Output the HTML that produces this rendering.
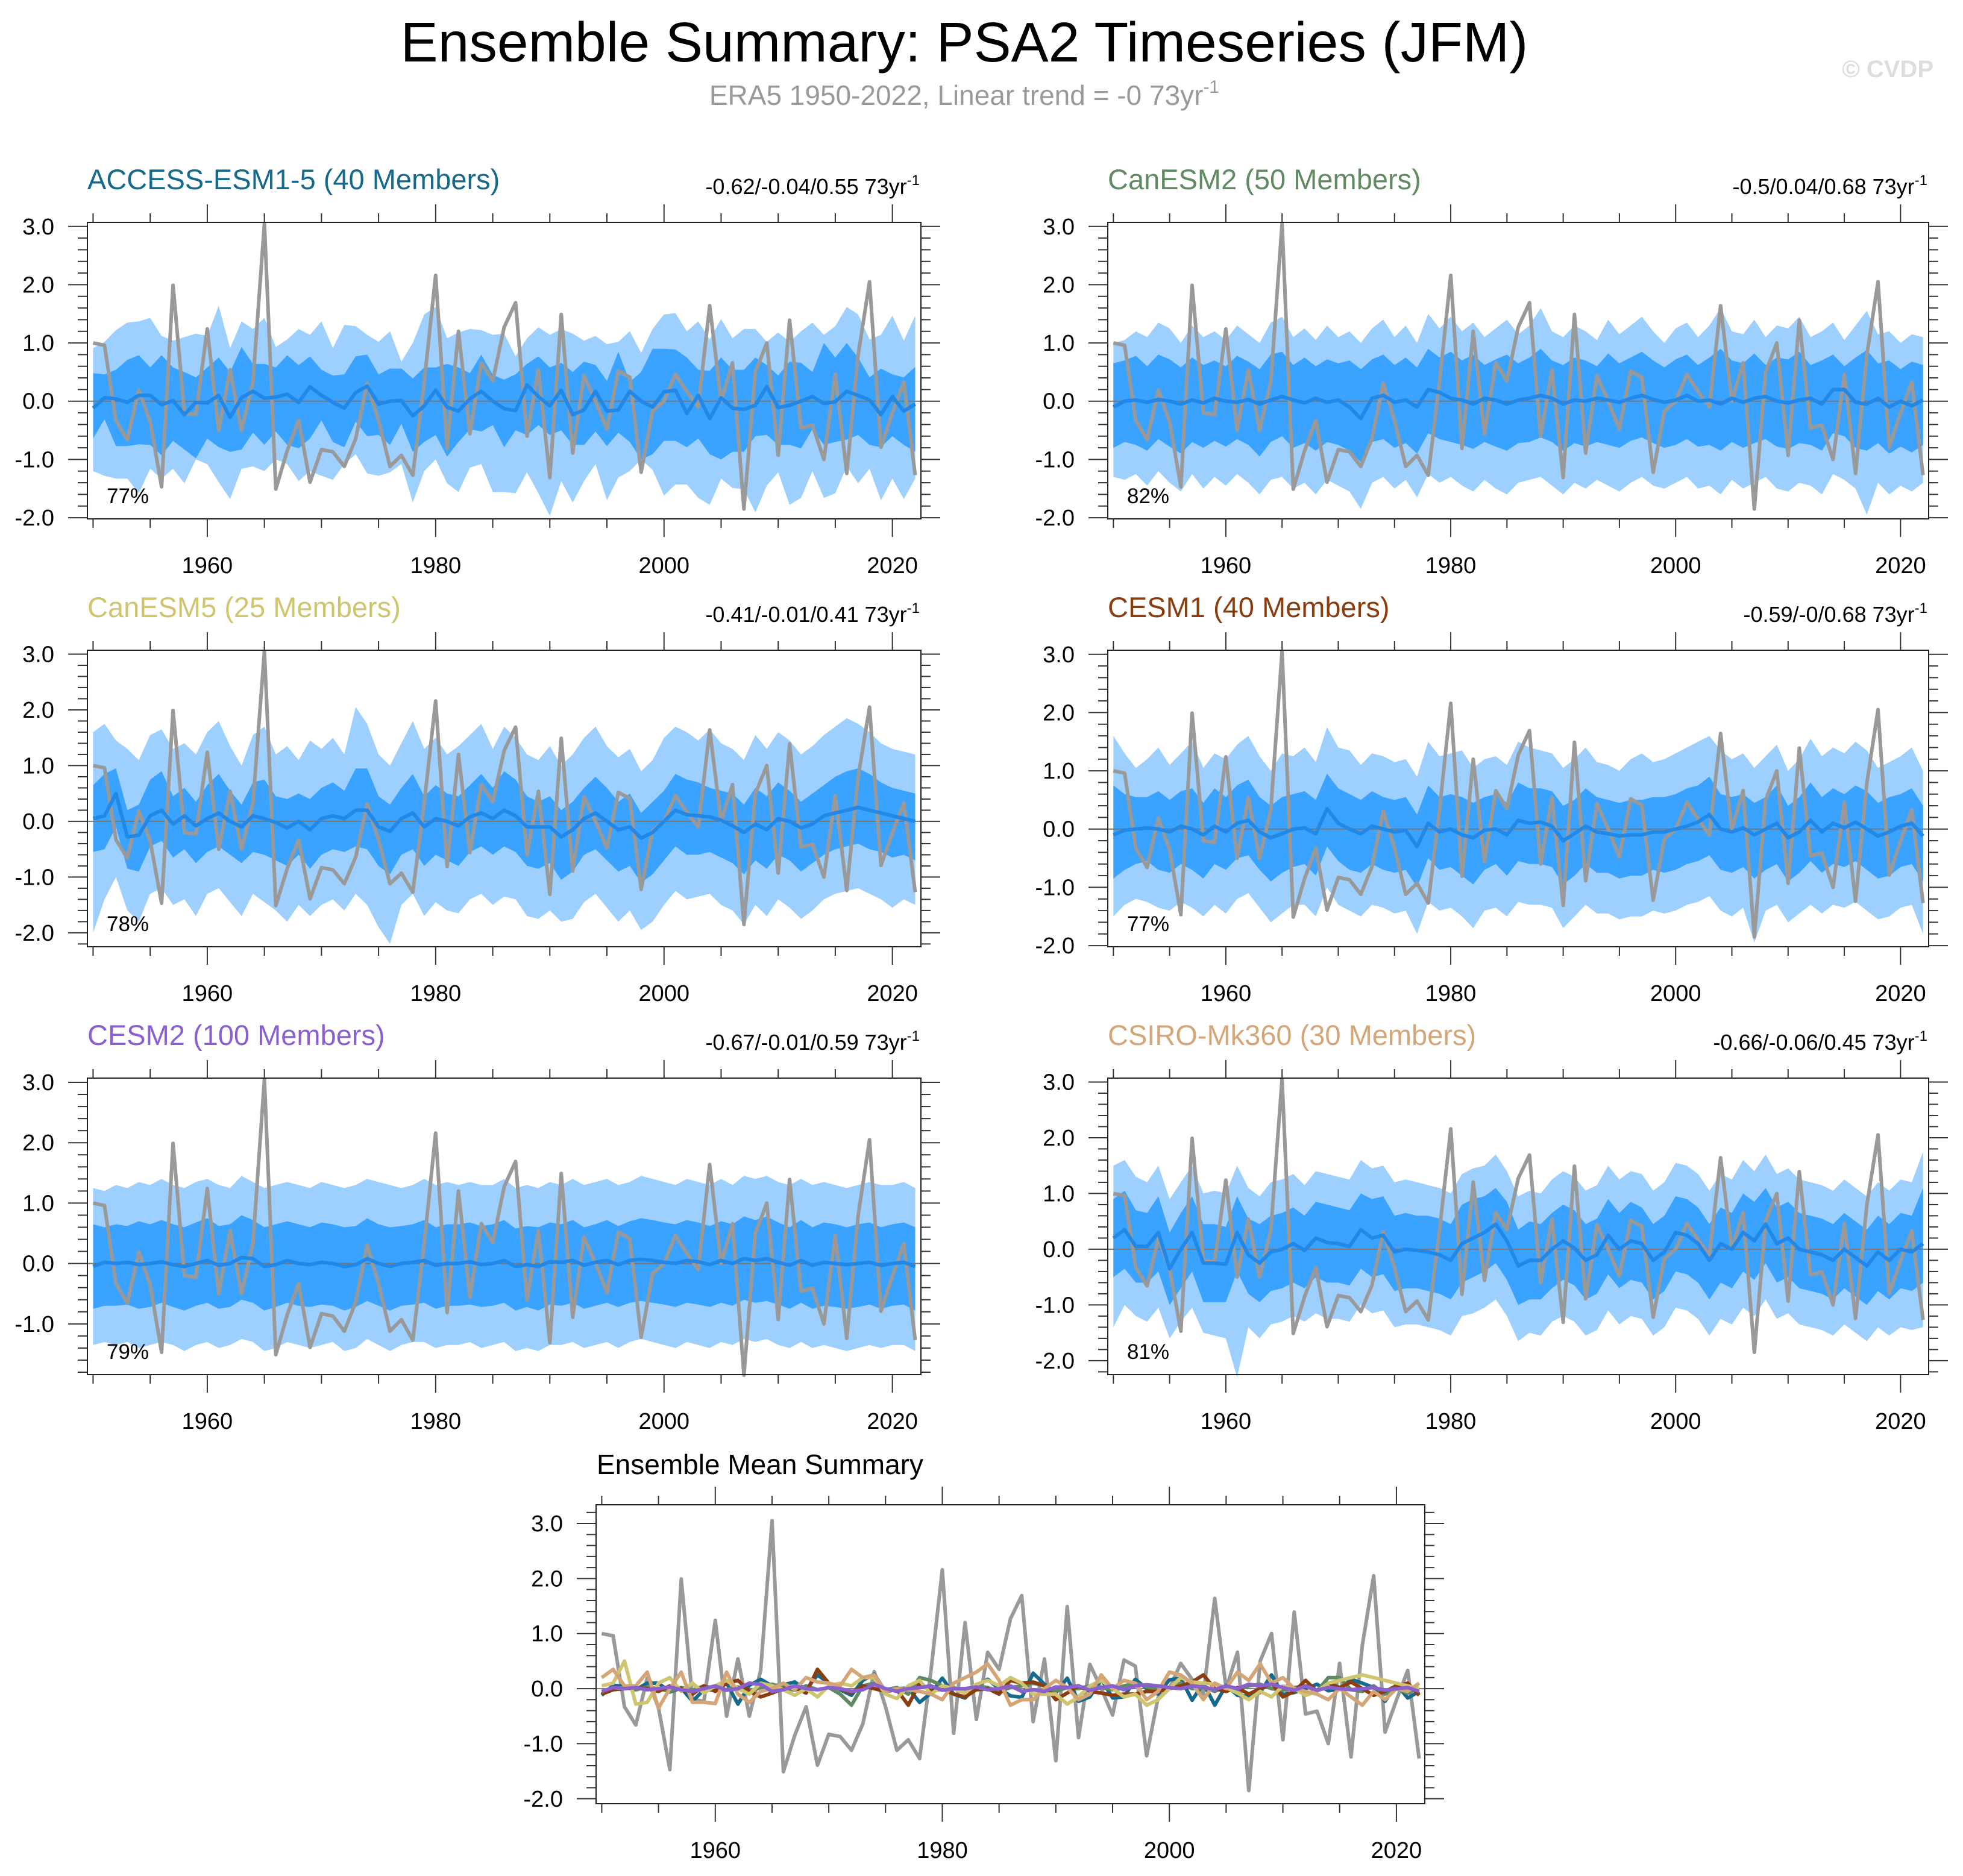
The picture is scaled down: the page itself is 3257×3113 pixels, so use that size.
<!DOCTYPE html>
<html><head><meta charset="utf-8"><style>
html,body{margin:0;padding:0;background:#fff;}
svg{display:block;font-family:"Liberation Sans",sans-serif;}
</style></head><body>
<svg id="chart" width="3257" height="3113" viewBox="0 0 3257 3113" xmlns="http://www.w3.org/2000/svg">
<text x="1600" y="102" font-size="93" text-anchor="middle" fill="#000">Ensemble Summary: PSA2 Timeseries (JFM)</text>
<text x="1600" y="174" font-size="46" text-anchor="middle" fill="#999">ERA5 1950-2022, Linear trend = -0 73yr<tspan font-size="30" dy="-20">-1</tspan></text>
<text x="3208" y="128" font-size="40" font-weight="bold" text-anchor="end" fill="#ddd">© CVDP</text>
<g id="panels"></g>
</svg>
<script>
const years = [];
for (let y = 1950; y <= 2022; y++) years.push(y);
const era5 = [1.0,0.96,-0.33,-0.66,0.19,-0.35,-1.47,1.99,-0.2,-0.23,
1.24,-0.5,0.54,-0.5,0.33,3.05,-1.51,-0.85,-0.33,-1.39,
-0.83,-0.87,-1.12,-0.64,0.31,-0.33,-1.12,-0.93,-1.27,0.33,
2.16,-0.81,1.2,-0.56,0.66,0.35,1.27,1.69,-0.6,0.54,
-1.31,1.49,-0.89,0.44,0.0,-0.48,0.52,0.41,-1.22,-0.17,
0.0,0.46,0.17,-0.1,1.64,0.0,0.66,-1.85,0.5,1.0,
-0.93,1.39,-0.46,-0.41,-1.0,0.46,-1.24,0.79,2.05,-0.79,
-0.21,0.33,-1.27];

const p1Mean = [-0.12,0.06,0.04,-0.02,0.1,0.1,-0.06,0.01,-0.23,-0.02,
-0.03,0.1,-0.28,0.06,0.17,0.05,0.07,0.12,-0.02,0.25,
0.1,-0.02,-0.12,0.15,0.26,-0.05,0,0.01,-0.25,-0.08,
0.19,-0.1,-0.17,0.04,0.17,0,-0.13,-0.16,0.28,0.08,
-0.08,0.19,-0.23,-0.15,0.17,-0.17,-0.15,0.17,0,-0.1,
0.16,0.19,-0.21,0.1,-0.3,0.06,-0.12,-0.14,-0.07,0.25,
-0.11,-0.07,0,0.08,-0.04,-0.01,0.17,0.1,0.02,-0.23,
0.08,-0.17,-0.05];
const p1InHi = [0.48,0.46,0.54,0.71,0.79,0.58,0.79,0.58,0.5,0.41,
0.58,0.75,0.5,0.93,0.64,0.64,0.58,0.79,0.62,0.77,
0.54,0.44,0.46,0.77,0.8,0.46,0.56,0.56,0.39,0.58,
0.58,0.64,0.58,0.48,0.8,0.45,0.37,0.46,0.64,0.77,
0.58,0.66,0.5,0.68,0.62,0.35,0.85,0.33,0.5,0.9,
0.9,0.89,0.75,0.54,0.52,0.75,0.54,0.54,0.75,0.62,
0.44,0.68,0.66,0.5,1.0,0.75,1.0,0.75,0.41,0.56,
0.46,0.41,0.59];
const p1InLo = [-0.64,-0.31,-0.77,-0.77,-0.74,-0.75,-0.93,-0.68,-0.83,-0.98,
-0.64,-0.79,-0.87,-0.83,-0.54,-0.75,-0.52,-0.75,-0.81,-0.64,
-0.33,-0.7,-0.79,-0.35,-0.6,-0.58,-0.75,-0.39,-0.87,-0.7,
-0.58,-0.95,-0.7,-0.48,-0.52,-0.41,-0.79,-0.5,-0.58,-0.41,
-0.58,-0.5,-0.75,-0.75,-0.52,-0.77,-0.54,-0.7,-1.0,-0.91,
-0.68,-0.68,-0.79,-0.64,-0.91,-1.0,-0.87,-0.87,-0.6,-0.58,
-0.75,-0.75,-0.81,-0.48,-0.75,-0.7,-0.66,-0.58,-0.75,-0.79,
-0.6,-0.75,-0.87];
const p1OutHi = [0.91,1.02,1.22,1.35,1.37,1.43,1.12,1.04,1.1,1.16,
1.12,1.64,0.91,1.37,1.24,1.43,0.93,1.06,1.24,1.14,
1.37,0.91,1.31,1.29,1.14,1.02,1.2,0.68,1.0,1.49,
1.62,1.08,1.18,1.24,1.22,1.14,1.16,0.77,1.08,1.27,
1.14,1.24,1.16,1.04,1.12,0.98,1.02,1.2,0.83,1.24,
1.49,1.51,1.2,1.37,1.06,1.41,1.08,1.24,1.24,1.02,
1.18,1.02,1.2,1.35,1.14,1.29,1.62,1.49,1.06,1.14,
1.47,1.04,1.47];
const p1OutLo = [-1.2,-1.28,-1.33,-1.33,-1.58,-1.16,-1.33,-1.16,-1.41,-1.0,
-1.08,-1.39,-1.68,-1.16,-1.12,-1.2,-1.0,-1.08,-1.37,-1.2,
-1.28,-1.35,-1.08,-0.91,-1.24,-1.28,-1.22,-1.08,-1.74,-1.2,
-1.0,-1.41,-1.56,-1.14,-1.08,-1.56,-1.56,-1.58,-1.22,-1.58,
-1.97,-1.37,-1.74,-1.37,-1.08,-1.7,-1.31,-1.2,-1.0,-1.18,
-1.62,-1.43,-1.43,-1.66,-1.78,-1.33,-1.49,-1.51,-1.91,-1.45,
-1.22,-1.78,-1.66,-1.2,-1.66,-1.58,-1.12,-1.41,-1.16,-1.7,
-1.33,-1.68,-1.33];

const p2Mean = [-0.1,0,0.02,-0.02,0.03,0,-0.05,0.02,-0.03,0.05,
0,-0.02,0.03,-0.05,0.02,0.08,0.02,-0.03,0.05,-0.02,
0.02,-0.1,-0.3,0.05,0.1,-0.02,0.02,-0.1,0.2,0.15,
0.05,0.02,-0.05,0.05,0.02,-0.05,0.02,0.05,0.1,0.05,
-0.05,0.02,0,0.05,0.02,-0.02,0.05,0.1,0.03,-0.02,
0.02,0.1,0,0.02,-0.05,0.05,-0.02,0.05,0.08,0,
-0.03,0.02,0.05,-0.05,0.2,0.2,-0.02,-0.05,0.05,-0.1,
0,-0.08,0.02];
const p2OutHi = [1.0,1.05,1.2,1.1,1.35,1.25,1.0,1.3,1.1,1.2,
1.05,1.3,1.15,1.0,1.35,1.45,1.1,1.25,1.05,1.3,
1.1,1.2,1.0,1.25,1.4,1.1,1.3,1.0,1.5,1.25,
1.45,1.2,1.35,1.1,1.25,1.4,1.15,1.3,1.6,1.2,
1.1,1.3,1.2,1.05,1.4,1.15,1.3,1.45,1.2,1.0,
1.25,1.35,1.1,1.3,1.6,1.2,1.15,1.4,1.1,1.3,
1.25,1.45,1.1,1.2,1.35,1.05,1.3,1.55,1.15,1.2,
1.0,1.15,1.1];
const p2InHi = [0.65,0.7,0.78,0.6,0.8,0.72,0.58,0.75,0.62,0.7,
0.6,0.78,0.68,0.55,0.8,0.85,0.62,0.75,0.6,0.72,
0.65,0.7,0.55,0.72,0.8,0.62,0.75,0.58,0.9,0.75,
0.85,0.7,0.8,0.62,0.72,0.8,0.65,0.75,0.9,0.7,
0.62,0.75,0.7,0.6,0.82,0.65,0.75,0.85,0.7,0.58,
0.72,0.8,0.62,0.75,0.9,0.7,0.65,0.82,0.62,0.75,
0.72,0.85,0.62,0.7,0.8,0.6,0.75,0.88,0.65,0.7,
0.55,0.68,0.62];
const p2InLo = [-0.8,-0.7,-0.75,-0.85,-0.65,-0.78,-0.9,-0.7,-0.8,-0.68,
-0.78,-0.65,-0.75,-0.95,-0.7,-0.6,-0.8,-0.72,-0.85,-0.7,
-0.75,-0.85,-1.05,-0.7,-0.65,-0.8,-0.72,-0.9,-0.55,-0.65,
-0.7,-0.75,-0.82,-0.7,-0.78,-0.85,-0.72,-0.7,-0.62,-0.7,
-0.85,-0.72,-0.78,-0.7,-0.75,-0.8,-0.68,-0.62,-0.72,-0.8,
-0.75,-0.65,-0.78,-0.75,-0.85,-0.7,-0.8,-0.72,-0.65,-0.78,
-0.82,-0.72,-0.75,-0.85,-0.55,-0.6,-0.8,-0.85,-0.72,-0.9,
-0.78,-0.88,-0.75];
const p2OutLo = [-1.3,-1.35,-1.25,-1.45,-1.2,-1.4,-1.55,-1.25,-1.5,-1.3,
-1.45,-1.25,-1.4,-1.6,-1.35,-1.3,-1.5,-1.4,-1.6,-1.35,
-1.45,-1.55,-1.85,-1.4,-1.3,-1.5,-1.35,-1.65,-1.25,-1.4,
-1.3,-1.45,-1.55,-1.35,-1.5,-1.6,-1.4,-1.35,-1.3,-1.45,
-1.6,-1.4,-1.5,-1.35,-1.45,-1.55,-1.4,-1.3,-1.45,-1.5,
-1.4,-1.3,-1.5,-1.45,-1.6,-1.35,-1.5,-1.4,-1.3,-1.5,
-1.55,-1.4,-1.45,-1.6,-1.25,-1.35,-1.5,-1.95,-1.4,-1.6,
-1.45,-1.55,-1.4];

const p3Mean = [0.05,0.1,0.5,-0.28,-0.25,0.1,0.2,-0.05,0.1,-0.08,
0.05,0.15,0.0,-0.1,0.1,0.05,-0.02,-0.12,0.0,-0.15,
0.05,0.1,0.05,0.2,0.2,-0.1,-0.18,0.05,0.15,-0.1,
0.05,0.0,-0.08,0.08,0.15,0.05,0.2,0.1,-0.1,-0.1,
-0.1,-0.28,-0.15,0.05,0.15,0.0,-0.15,-0.1,-0.3,-0.2,
0.0,0.2,0.12,0.1,0.08,0.02,-0.08,-0.2,-0.05,-0.15,
0.05,0.0,-0.12,-0.05,0.1,0.15,0.2,0.25,0.2,0.15,
0.1,0.05,0.0];
const p3OutHi = [1.6,1.75,1.45,1.3,1.1,1.55,1.65,1.3,1.4,1.2,
1.6,1.8,1.35,1.0,1.55,1.7,1.2,1.35,1.1,1.45,
1.3,1.5,1.2,2.05,1.75,1.2,1.0,1.4,1.8,1.3,
1.5,1.2,1.35,1.55,1.75,1.3,1.7,1.5,1.2,1.1,
1.35,1.0,1.2,1.5,1.7,1.35,1.15,1.3,0.9,1.1,
1.5,1.7,1.6,1.45,1.65,1.4,1.3,1.1,1.55,1.3,
1.6,1.45,1.2,1.35,1.55,1.7,1.85,1.75,1.6,1.4,
1.3,1.25,1.2];
const p3InHi = [0.65,0.85,0.95,0.2,0.3,0.75,0.9,0.45,0.6,0.35,
0.65,0.85,0.55,0.3,0.7,0.75,0.45,0.4,0.5,0.4,
0.6,0.7,0.55,0.95,0.95,0.45,0.3,0.6,0.85,0.45,
0.65,0.5,0.45,0.65,0.85,0.6,0.9,0.75,0.45,0.35,
0.45,0.2,0.35,0.6,0.8,0.6,0.35,0.5,0.15,0.35,
0.55,0.85,0.75,0.7,0.6,0.55,0.5,0.3,0.6,0.45,
0.7,0.55,0.35,0.5,0.65,0.8,0.9,0.95,0.85,0.7,
0.6,0.55,0.5];
const p3InLo = [-0.55,-0.5,-0.1,-0.85,-0.9,-0.45,-0.35,-0.65,-0.5,-0.75,
-0.55,-0.45,-0.6,-0.75,-0.55,-0.6,-0.7,-0.8,-0.6,-0.85,
-0.6,-0.5,-0.55,-0.45,-0.5,-0.8,-0.95,-0.6,-0.5,-0.8,
-0.6,-0.7,-0.8,-0.55,-0.45,-0.6,-0.45,-0.55,-0.8,-0.85,
-0.75,-1.05,-0.9,-0.6,-0.5,-0.7,-0.9,-0.8,-1.1,-0.95,
-0.7,-0.45,-0.6,-0.6,-0.55,-0.65,-0.75,-0.95,-0.7,-0.85,
-0.6,-0.7,-0.9,-0.75,-0.6,-0.5,-0.45,-0.4,-0.5,-0.55,
-0.65,-0.6,-0.7];
const p3OutLo = [-2.0,-1.4,-1.0,-1.6,-1.8,-1.3,-1.2,-1.5,-1.4,-1.7,
-1.3,-1.2,-1.45,-1.7,-1.3,-1.45,-1.6,-1.8,-1.5,-1.7,
-1.5,-1.4,-1.6,-1.3,-1.5,-1.9,-2.2,-1.5,-1.3,-1.7,
-1.45,-1.6,-1.65,-1.4,-1.3,-1.5,-1.35,-1.4,-1.7,-1.75,
-1.6,-1.8,-1.75,-1.45,-1.3,-1.55,-1.8,-1.6,-1.95,-1.8,
-1.5,-1.25,-1.4,-1.35,-1.3,-1.5,-1.6,-1.85,-1.5,-1.7,
-1.4,-1.55,-1.75,-1.6,-1.4,-1.3,-1.25,-1.2,-1.3,-1.4,
-1.55,-1.4,-1.5];

const p4Mean = [-0.1,-0.02,0.0,0.02,0.0,-0.05,0.05,0.0,-0.1,0.05,
-0.05,0.1,0.15,-0.05,-0.15,-0.08,0.0,0.02,-0.08,0.35,
0.1,0.0,-0.08,0.05,0.0,-0.05,-0.02,-0.3,0.1,-0.05,
0.0,-0.1,-0.15,-0.02,0.0,-0.1,0.15,0.1,0.12,0.05,
-0.2,-0.08,0.05,-0.05,-0.08,-0.12,-0.1,-0.1,-0.05,-0.05,
0.0,0.05,0.12,0.25,0.0,-0.05,0.02,-0.1,0.0,0.1,
-0.15,-0.05,0.15,-0.05,0.1,0.02,0.12,0.0,-0.12,-0.05,
0.05,0.1,-0.12];
const p4OutHi = [1.6,1.3,1.05,1.2,1.4,1.1,1.3,1.5,1.05,1.3,
1.2,1.45,1.6,1.25,1.0,1.3,1.25,1.4,1.15,1.75,
1.4,1.35,1.1,1.3,1.25,1.15,1.2,0.9,1.5,1.25,
1.3,1.35,1.05,1.2,1.25,1.1,1.5,1.4,1.35,1.3,
1.05,1.2,1.4,1.15,1.1,1.0,1.2,1.3,1.15,1.2,
1.3,1.4,1.5,1.6,1.35,1.2,1.3,1.05,1.25,1.45,
1.0,1.2,1.55,1.25,1.4,1.3,1.5,1.35,1.05,1.15,
1.25,1.4,1.0];
const p4InHi = [0.75,0.6,0.55,0.55,0.65,0.5,0.65,0.7,0.45,0.7,
0.55,0.75,0.85,0.55,0.4,0.55,0.6,0.65,0.5,0.95,
0.7,0.6,0.5,0.65,0.55,0.5,0.55,0.25,0.75,0.55,
0.6,0.55,0.45,0.55,0.6,0.45,0.8,0.7,0.7,0.65,
0.4,0.5,0.7,0.55,0.5,0.45,0.5,0.5,0.55,0.55,
0.6,0.7,0.75,0.9,0.6,0.55,0.6,0.45,0.55,0.75,
0.4,0.55,0.8,0.55,0.7,0.6,0.75,0.65,0.45,0.55,
0.6,0.7,0.4];
const p4InLo = [-0.85,-0.7,-0.6,-0.55,-0.7,-0.75,-0.6,-0.7,-0.85,-0.6,
-0.7,-0.5,-0.45,-0.7,-0.9,-0.75,-0.65,-0.6,-0.8,-0.3,
-0.55,-0.7,-0.75,-0.6,-0.7,-0.75,-0.7,-1.0,-0.5,-0.7,
-0.65,-0.8,-0.95,-0.7,-0.6,-0.8,-0.55,-0.6,-0.6,-0.65,
-0.95,-0.8,-0.6,-0.75,-0.75,-0.85,-0.8,-0.8,-0.7,-0.75,
-0.7,-0.6,-0.55,-0.45,-0.7,-0.75,-0.65,-0.85,-0.7,-0.6,
-0.9,-0.75,-0.55,-0.75,-0.6,-0.65,-0.55,-0.7,-0.85,-0.8,
-0.65,-0.6,-0.9];
const p4OutLo = [-1.5,-1.3,-1.2,-1.25,-1.35,-1.4,-1.25,-1.35,-1.5,-1.3,
-1.45,-1.2,-1.1,-1.35,-1.6,-1.45,-1.3,-1.3,-1.5,-1.0,
-1.3,-1.4,-1.5,-1.3,-1.35,-1.45,-1.4,-1.8,-1.25,-1.4,
-1.35,-1.5,-1.7,-1.4,-1.35,-1.5,-1.25,-1.3,-1.3,-1.35,
-1.7,-1.5,-1.3,-1.45,-1.45,-1.55,-1.5,-1.5,-1.4,-1.45,
-1.4,-1.3,-1.25,-1.15,-1.4,-1.5,-1.35,-1.95,-1.4,-1.3,
-1.6,-1.45,-1.3,-1.45,-1.3,-1.35,-1.25,-1.4,-1.55,-1.5,
-1.35,-1.3,-1.8];

const p5Mean = [-0.05,0.02,0.0,0.02,-0.02,0.0,0.03,-0.02,-0.05,0.0,
0.05,-0.03,0.0,0.1,0.08,-0.05,-0.02,0.05,0.0,-0.02,
0.02,0.0,-0.05,-0.02,0.08,0.0,-0.05,0.0,0.02,0.05,
-0.03,0.0,0.0,0.03,-0.02,0.0,0.05,-0.05,-0.02,-0.05,
0.03,0.02,0.05,-0.03,0.02,0.05,-0.02,0.05,0.07,0.05,
0.02,0.0,0.05,0.03,-0.02,0.05,0.0,0.08,0.05,0.08,
0.02,-0.03,0.05,-0.03,0.02,0.0,-0.02,0.0,0.02,-0.03,
0.0,0.02,-0.05];
const p5OutHi = [1.25,1.2,1.3,1.25,1.35,1.3,1.4,1.3,1.25,1.35,
1.4,1.3,1.25,1.45,1.35,1.25,1.3,1.35,1.3,1.25,
1.35,1.3,1.25,1.3,1.4,1.35,1.3,1.25,1.3,1.4,
1.3,1.35,1.3,1.35,1.3,1.3,1.4,1.25,1.3,1.25,
1.35,1.3,1.4,1.3,1.35,1.4,1.3,1.35,1.45,1.4,
1.35,1.3,1.4,1.35,1.3,1.4,1.3,1.45,1.4,1.45,
1.35,1.3,1.4,1.3,1.35,1.3,1.25,1.3,1.35,1.3,
1.3,1.35,1.25];
const p5InHi = [0.65,0.6,0.65,0.62,0.7,0.65,0.72,0.65,0.6,0.68,
0.75,0.62,0.65,0.8,0.72,0.6,0.65,0.7,0.65,0.6,
0.68,0.65,0.6,0.62,0.75,0.65,0.6,0.62,0.65,0.72,
0.6,0.65,0.65,0.68,0.62,0.65,0.72,0.58,0.62,0.6,
0.68,0.65,0.72,0.6,0.65,0.72,0.62,0.7,0.75,0.72,
0.68,0.65,0.72,0.68,0.62,0.7,0.65,0.78,0.72,0.78,
0.68,0.6,0.72,0.6,0.68,0.65,0.6,0.65,0.68,0.6,
0.65,0.68,0.6];
const p5InLo = [-0.75,-0.7,-0.7,-0.68,-0.75,-0.72,-0.65,-0.72,-0.78,-0.7,
-0.65,-0.75,-0.72,-0.6,-0.65,-0.78,-0.72,-0.65,-0.7,-0.72,
-0.68,-0.7,-0.78,-0.72,-0.62,-0.7,-0.78,-0.7,-0.68,-0.65,
-0.75,-0.7,-0.7,-0.68,-0.72,-0.7,-0.65,-0.78,-0.72,-0.78,
-0.68,-0.7,-0.65,-0.75,-0.7,-0.65,-0.72,-0.65,-0.62,-0.65,
-0.68,-0.72,-0.65,-0.68,-0.72,-0.65,-0.7,-0.6,-0.65,-0.62,
-0.68,-0.75,-0.65,-0.75,-0.7,-0.72,-0.75,-0.72,-0.68,-0.75,
-0.7,-0.68,-0.78];
const p5OutLo = [-1.35,-1.3,-1.35,-1.3,-1.4,-1.35,-1.3,-1.35,-1.45,-1.35,
-1.3,-1.4,-1.35,-1.25,-1.3,-1.45,-1.4,-1.3,-1.35,-1.4,
-1.35,-1.3,-1.45,-1.4,-1.25,-1.35,-1.45,-1.35,-1.3,-1.3,
-1.4,-1.35,-1.35,-1.3,-1.4,-1.35,-1.3,-1.45,-1.4,-1.45,
-1.35,-1.35,-1.3,-1.4,-1.35,-1.3,-1.4,-1.3,-1.25,-1.3,
-1.35,-1.4,-1.3,-1.35,-1.4,-1.3,-1.35,-1.25,-1.3,-1.25,
-1.35,-1.4,-1.3,-1.4,-1.35,-1.4,-1.45,-1.4,-1.35,-1.4,
-1.35,-1.35,-1.45];

const p6Mean = [0.2,0.35,0.05,0.05,0.3,-0.35,0.0,0.3,-0.25,-0.25,
-0.27,0.3,-0.1,-0.25,-0.05,0.0,0.1,-0.02,0.2,0.12,
0.1,0.05,0.35,0.2,0.25,-0.05,0.0,-0.02,-0.05,-0.1,
-0.2,0.1,0.2,0.3,0.45,0.15,-0.3,-0.2,-0.2,0.0,
0.15,0.02,-0.2,-0.1,0.25,0.0,0.15,0.1,-0.2,-0.05,
0.3,0.25,0.1,-0.2,0.1,0.0,0.3,0.15,0.45,0.1,
0.2,0.0,-0.05,-0.1,-0.2,0.0,-0.15,-0.3,-0.05,-0.2,
0.0,-0.05,0.1];
const p6OutHi = [1.5,1.6,1.3,1.2,1.5,0.9,1.2,1.5,1.0,1.05,
1.0,1.5,1.1,0.95,1.2,1.25,1.35,1.15,1.4,1.35,
1.3,1.25,1.6,1.45,1.5,1.2,1.25,1.2,1.15,1.1,
1.0,1.35,1.45,1.5,1.7,1.4,0.95,1.05,1.0,1.25,
1.4,1.3,1.05,1.15,1.5,1.25,1.4,1.35,1.05,1.2,
1.55,1.5,1.35,1.05,1.35,1.25,1.6,1.4,1.7,1.35,
1.45,1.25,1.2,1.15,1.05,1.25,1.1,0.95,1.2,1.05,
1.25,1.2,1.75];
const p6InHi = [0.9,1.05,0.7,0.65,0.95,0.3,0.65,0.95,0.45,0.45,
0.4,0.95,0.55,0.45,0.6,0.65,0.75,0.6,0.85,0.8,
0.75,0.7,1.0,0.9,0.95,0.6,0.65,0.6,0.6,0.55,
0.45,0.8,0.9,0.95,1.1,0.85,0.35,0.5,0.45,0.65,
0.8,0.7,0.45,0.55,0.9,0.65,0.85,0.75,0.45,0.6,
0.95,0.9,0.75,0.45,0.75,0.65,1.0,0.85,1.1,0.75,
0.85,0.65,0.6,0.55,0.45,0.65,0.5,0.35,0.6,0.45,
0.65,0.6,1.1];
const p6InLo = [-0.5,-0.35,-0.6,-0.6,-0.4,-1.0,-0.7,-0.4,-0.95,-0.95,
-0.95,-0.4,-0.8,-0.95,-0.75,-0.7,-0.6,-0.7,-0.5,-0.6,
-0.6,-0.65,-0.35,-0.5,-0.45,-0.75,-0.7,-0.7,-0.75,-0.8,
-0.9,-0.6,-0.5,-0.4,-0.25,-0.55,-1.0,-0.9,-0.9,-0.7,
-0.55,-0.65,-0.9,-0.8,-0.45,-0.7,-0.55,-0.6,-0.9,-0.75,
-0.4,-0.45,-0.6,-0.9,-0.6,-0.7,-0.4,-0.55,-0.25,-0.6,
-0.5,-0.7,-0.75,-0.8,-0.9,-0.7,-0.85,-1.0,-0.75,-0.9,
-0.7,-0.75,-0.6];
const p6OutLo = [-1.4,-1.0,-1.2,-1.3,-1.05,-1.6,-1.3,-1.05,-1.5,-1.55,
-1.6,-2.3,-1.4,-1.6,-1.35,-1.3,-1.2,-1.3,-1.15,-1.25,
-1.25,-1.3,-1.0,-1.15,-1.1,-1.4,-1.35,-1.35,-1.4,-1.45,
-1.55,-1.2,-1.15,-1.05,-0.9,-1.2,-1.65,-1.5,-1.55,-1.3,
-1.2,-1.3,-1.55,-1.45,-1.1,-1.35,-1.2,-1.25,-1.55,-1.4,
-1.05,-1.1,-1.25,-1.55,-1.25,-1.35,-1.05,-1.2,-0.9,-1.25,
-1.15,-1.35,-1.4,-1.45,-1.55,-1.35,-1.5,-1.65,-1.4,-1.55,
-1.4,-1.45,-1.4];

const modelNames = ["ACCESS-ESM1-5 (40 Members)","CanESM2 (50 Members)","CanESM5 (25 Members)","CESM1 (40 Members)","CESM2 (100 Members)","CSIRO-Mk360 (30 Members)"];
const modelColors = ["#15698c","#5f8a62","#cfc56e","#8b3d0e","#8a5fd0","#d4a677"];
const statsText = ["-0.62/-0.04/0.55 73yr","-0.5/0.04/0.68 73yr","-0.41/-0.01/0.41 73yr","-0.59/-0/0.68 73yr","-0.67/-0.01/0.59 73yr","-0.66/-0.06/0.45 73yr"];
const pctLabels = ["77%","82%","78%","77%","79%","81%"];
const yMins = [-2.02,-2.02,-2.25,-2.02,-1.84,-2.25];
const means = [p1Mean,p2Mean,p3Mean,p4Mean,p5Mean,p6Mean];
const inHis = [p1InHi,p2InHi,p3InHi,p4InHi,p5InHi,p6InHi];
const inLos = [p1InLo,p2InLo,p3InLo,p4InLo,p5InLo,p6InLo];
const outHis = [p1OutHi,p2OutHi,p3OutHi,p4OutHi,p5OutHi,p6OutHi];
const outLos = [p1OutLo,p2OutLo,p3OutLo,p4OutLo,p5OutLo,p6OutLo];

const NS = "http://www.w3.org/2000/svg";
const root = document.getElementById("panels");
function mk(tag, attrs, parent) {
  const e = document.createElementNS(NS, tag);
  for (const k in attrs) e.setAttribute(k, attrs[k]);
  parent.appendChild(e);
  return e;
}
function linePath(xs, ys, sx, sy) {
  return xs.map((x, i) => (i ? "L" : "M") + sx(x).toFixed(1) + "," + sy(ys[i]).toFixed(1)).join("");
}
function bandPath(xs, lo, hi, sx, sy) {
  let d = xs.map((x, i) => (i ? "L" : "M") + sx(x).toFixed(1) + "," + sy(hi[i]).toFixed(1)).join("");
  for (let i = xs.length - 1; i >= 0; i--) d += "L" + sx(xs[i]).toFixed(1) + "," + sy(lo[i]).toFixed(1);
  return d + "Z";
}
function drawAxes(g, x0, x1, y0, y1, sx, sy, ymin, ymax) {
  const frame = mk("rect", {x: x0, y: y0, width: x1 - x0, height: y1 - y0, fill: "none", stroke: "#222", "stroke-width": 2}, g);
  
  
  for (let yr = 1950; yr <= 2020; yr += 5) {
    const major = yr % 20 === 0;
    const L = major ? 30 : 15;
    const x = sx(yr);
    mk("line", {x1: x, x2: x, y1: y1, y2: y1 + L, stroke: "#333", "stroke-width": 2}, g);
    mk("line", {x1: x, x2: x, y1: y0, y2: y0 - L, stroke: "#333", "stroke-width": 2}, g);
    if (major) {
      const t = mk("text", {x: x, y: y1 + 90, "font-size": 38, "text-anchor": "middle", fill: "#000"}, g);
      
      
      t.textContent = yr;
    }
  }
  for (let k = Math.ceil(ymin * 5); k <= Math.floor(ymax * 5); k++) {
    const v = k / 5, major = k % 5 === 0, L = major ? 32 : 16, y = sy(v);
    mk("line", {x1: x0, x2: x0 - L, y1: y, y2: y, stroke: "#333", "stroke-width": 2}, g);
    mk("line", {x1: x1, x2: x1 + L, y1: y, y2: y, stroke: "#333", "stroke-width": 2}, g);
    if (major) {
      const t = mk("text", {x: x0 - 55, y: y + 13, "font-size": 38, "text-anchor": "end", fill: "#000"}, g);
      
      
      t.textContent = v.toFixed(1);
    }
  }
}

const cols = [[145, 1528], [1838, 3200]];
const rows = [[369, 861], [1079, 1571], [1789, 2281]];
const YMAX = 3.07;
for (let p = 0; p < 6; p++) {
  const [x0, x1] = cols[p % 2], [y0, y1] = rows[Math.floor(p / 2)];
  const ymin = yMins[p];
  const sx = yr => x0 + (yr - 1949.5) / 73 * (x1 - x0);
  const sy = v => y1 - (v - ymin) / (YMAX - ymin) * (y1 - y0);
  const g = mk("g", {}, root);
  
  
  const ob = mk("path", {d: bandPath(years, outLos[p], outHis[p], sx, sy), fill: "#9ed0ff"}, g);
  
  
  const ib = mk("path", {d: bandPath(years, inLos[p], inHis[p], sx, sy), fill: "#3aa2ff"}, g);
  
  
  mk("line", {x1: x0, x2: x1, y1: sy(0), y2: sy(0), stroke: "#777", "stroke-width": 2}, g);
  const el = mk("path", {d: linePath(years, era5, sx, sy), fill: "none", stroke: "#999", "stroke-width": 6, "stroke-linejoin": "round"}, g);
  
  
  const ml = mk("path", {d: linePath(years, means[p], sx, sy), fill: "none", stroke: "#2288e8", "stroke-width": 6, "stroke-linejoin": "round"}, g);
  
  
  drawAxes(g, x0, x1, y0, y1, sx, sy, ymin, YMAX);
  const tt = mk("text", {x: x0, y: y0 - 55, "font-size": 47, fill: modelColors[p]}, g);
  
  
  tt.textContent = modelNames[p];
  const st = mk("text", {x: x1 - 2, y: y0 - 47, "font-size": 36, "text-anchor": "end", fill: "#000"}, g);
  
  
  st.textContent = statsText[p];
  const sup = mk("tspan", {"font-size": 24, dy: -15}, st);
  sup.textContent = "-1";
  const pc = mk("text", {x: x0 + 32, y: y1 - 26, "font-size": 35, fill: "#000"}, g);
  
  
  pc.textContent = pctLabels[p];
}

{
  const x0 = 989, x1 = 2364, y0 = 2497, y1 = 2993, ymin = -2.09, ymax = 3.34;
  const sx = yr => x0 + (yr - 1949.5) / 73 * (x1 - x0);
  const sy = v => y1 - (v - ymin) / (ymax - ymin) * (y1 - y0);
  const g = mk("g", {}, root);
  
  
  mk("line", {x1: x0, x2: x1, y1: sy(0), y2: sy(0), stroke: "#777", "stroke-width": 2}, g);
  const el = mk("path", {d: linePath(years, era5, sx, sy), fill: "none", stroke: "#999", "stroke-width": 6, "stroke-linejoin": "round"}, g);
  
  
  const order = [0, 1, 3, 2, 5, 4];
  for (const p of order) {
    const ml = mk("path", {d: linePath(years, means[p], sx, sy), fill: "none", stroke: modelColors[p], "stroke-width": 6, "stroke-linejoin": "round"}, g);
    
    
  }
  drawAxes(g, x0, x1, y0, y1, sx, sy, ymin, ymax);
  const tt = mk("text", {x: 1261, y: 2446, "font-size": 46, "text-anchor": "middle", fill: "#000"}, g);
  
  
  tt.textContent = "Ensemble Mean Summary";
}
</script>
</body></html>
